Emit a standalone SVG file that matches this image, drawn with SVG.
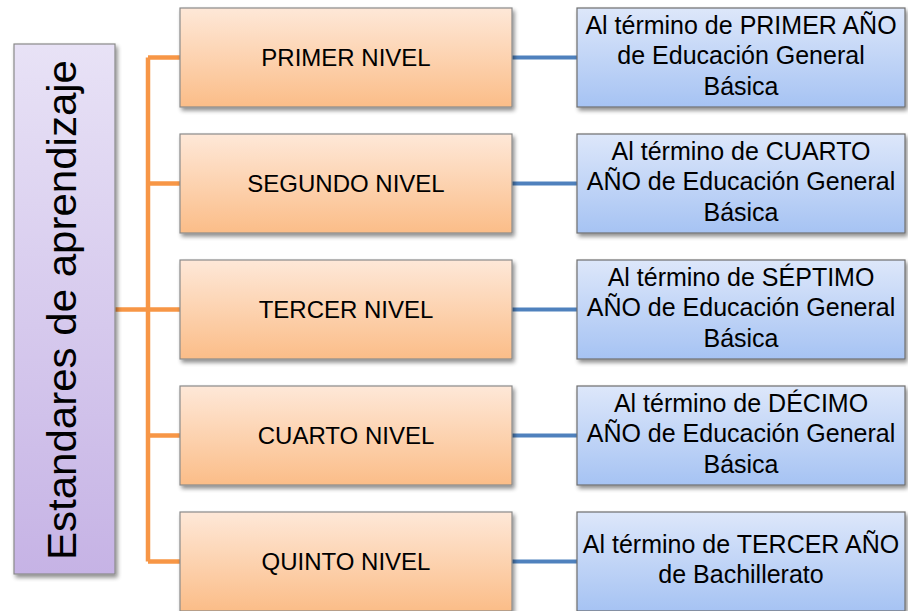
<svg xmlns="http://www.w3.org/2000/svg" width="908" height="611" viewBox="0 0 908 611">
<defs>
<linearGradient id="gOr" x1="0" y1="0" x2="0" y2="1"><stop offset="0" stop-color="#fee8d8"/><stop offset="1" stop-color="#fbbd88"/></linearGradient>
<linearGradient id="gBl" x1="0" y1="0" x2="0" y2="1"><stop offset="0" stop-color="#dde7fa"/><stop offset="1" stop-color="#a6c3f3"/></linearGradient>
<linearGradient id="gPu" x1="0" y1="0" x2="0" y2="1"><stop offset="0" stop-color="#e8e2f6"/><stop offset="1" stop-color="#c6b3e5"/></linearGradient>
<filter id="sh" x="-10%" y="-10%" width="125%" height="130%"><feGaussianBlur in="SourceAlpha" stdDeviation="2.2"/><feOffset dx="2" dy="3" result="b"/><feComponentTransfer><feFuncA type="linear" slope="0.45"/></feComponentTransfer><feMerge><feMergeNode/><feMergeNode in="SourceGraphic"/></feMerge></filter>
</defs>
<style>
.or{fill:url(#gOr);stroke:#8a8a8a;stroke-width:1.2}
.bl{fill:url(#gBl);stroke:#6e6e6e;stroke-width:1.2}
.pu{fill:url(#gPu);stroke:#8a8a8a;stroke-width:1.2}
text{font-family:"Liberation Sans",Arial,sans-serif;fill:#000;text-anchor:middle}
.t1{font-size:24px}
.t2{font-size:25px}
.co{stroke:#f79646;stroke-width:4.5;fill:none}
.cb{stroke:#4f81bd;stroke-width:4;fill:none}
</style>
<g id="connectors">
<path class="co" d="M115 309.5H148M148 57.5V561.5M148 57.5H180M148 183.5H180M148 309.5H180M148 435.5H180M148 561.5H180"/>
<path class="cb" d="M512 57.5H577M512 183.5H577M512 309.5H577M512 435.5H577M512 561.5H577"/>
</g>
<g id="root"><rect class="pu" x="14" y="44" width="101" height="530" filter="url(#sh)"/>
<text transform="translate(76,310) rotate(-90)" font-size="40" textLength="500" lengthAdjust="spacingAndGlyphs">Estandares de aprendizaje</text></g>
<g id="n1"><rect class="or" x="180" y="8" width="332" height="99" filter="url(#sh)"/><text class="t1" x="346" y="66">PRIMER NIVEL</text></g>
<g id="n2"><rect class="or" x="180" y="134" width="332" height="99" filter="url(#sh)"/><text class="t1" x="346" y="192">SEGUNDO NIVEL</text></g>
<g id="n3"><rect class="or" x="180" y="260" width="332" height="99" filter="url(#sh)"/><text class="t1" x="346" y="318">TERCER NIVEL</text></g>
<g id="n4"><rect class="or" x="180" y="386" width="332" height="99" filter="url(#sh)"/><text class="t1" x="346" y="444">CUARTO NIVEL</text></g>
<g id="n5"><rect class="or" x="180" y="512" width="332" height="99" filter="url(#sh)"/><text class="t1" x="346" y="570">QUINTO NIVEL</text></g>
<g id="b1"><rect class="bl" x="577" y="8" width="328" height="99" filter="url(#sh)"/>
<text class="t2" x="741" y="33.5">Al término de PRIMER AÑO</text><text class="t2" x="741" y="64">de Educación General</text><text class="t2" x="741" y="94.5">Básica</text></g>
<g id="b2"><rect class="bl" x="577" y="134" width="328" height="99" filter="url(#sh)"/>
<text class="t2" x="741" y="159.5">Al término de CUARTO</text><text class="t2" x="741" y="190">AÑO de Educación General</text><text class="t2" x="741" y="220.5">Básica</text></g>
<g id="b3"><rect class="bl" x="577" y="260" width="328" height="99" filter="url(#sh)"/>
<text class="t2" x="741" y="285.5">Al término de SÉPTIMO</text><text class="t2" x="741" y="316">AÑO de Educación General</text><text class="t2" x="741" y="346.5">Básica</text></g>
<g id="b4"><rect class="bl" x="577" y="386" width="328" height="99" filter="url(#sh)"/>
<text class="t2" x="741" y="411.5">Al término de DÉCIMO</text><text class="t2" x="741" y="442">AÑO de Educación General</text><text class="t2" x="741" y="472.5">Básica</text></g>
<g id="b5"><rect class="bl" x="577" y="512" width="328" height="99" filter="url(#sh)"/>
<text class="t2" x="741" y="553">Al término de TERCER AÑO</text><text class="t2" x="741" y="583">de Bachillerato</text></g>
</svg>
